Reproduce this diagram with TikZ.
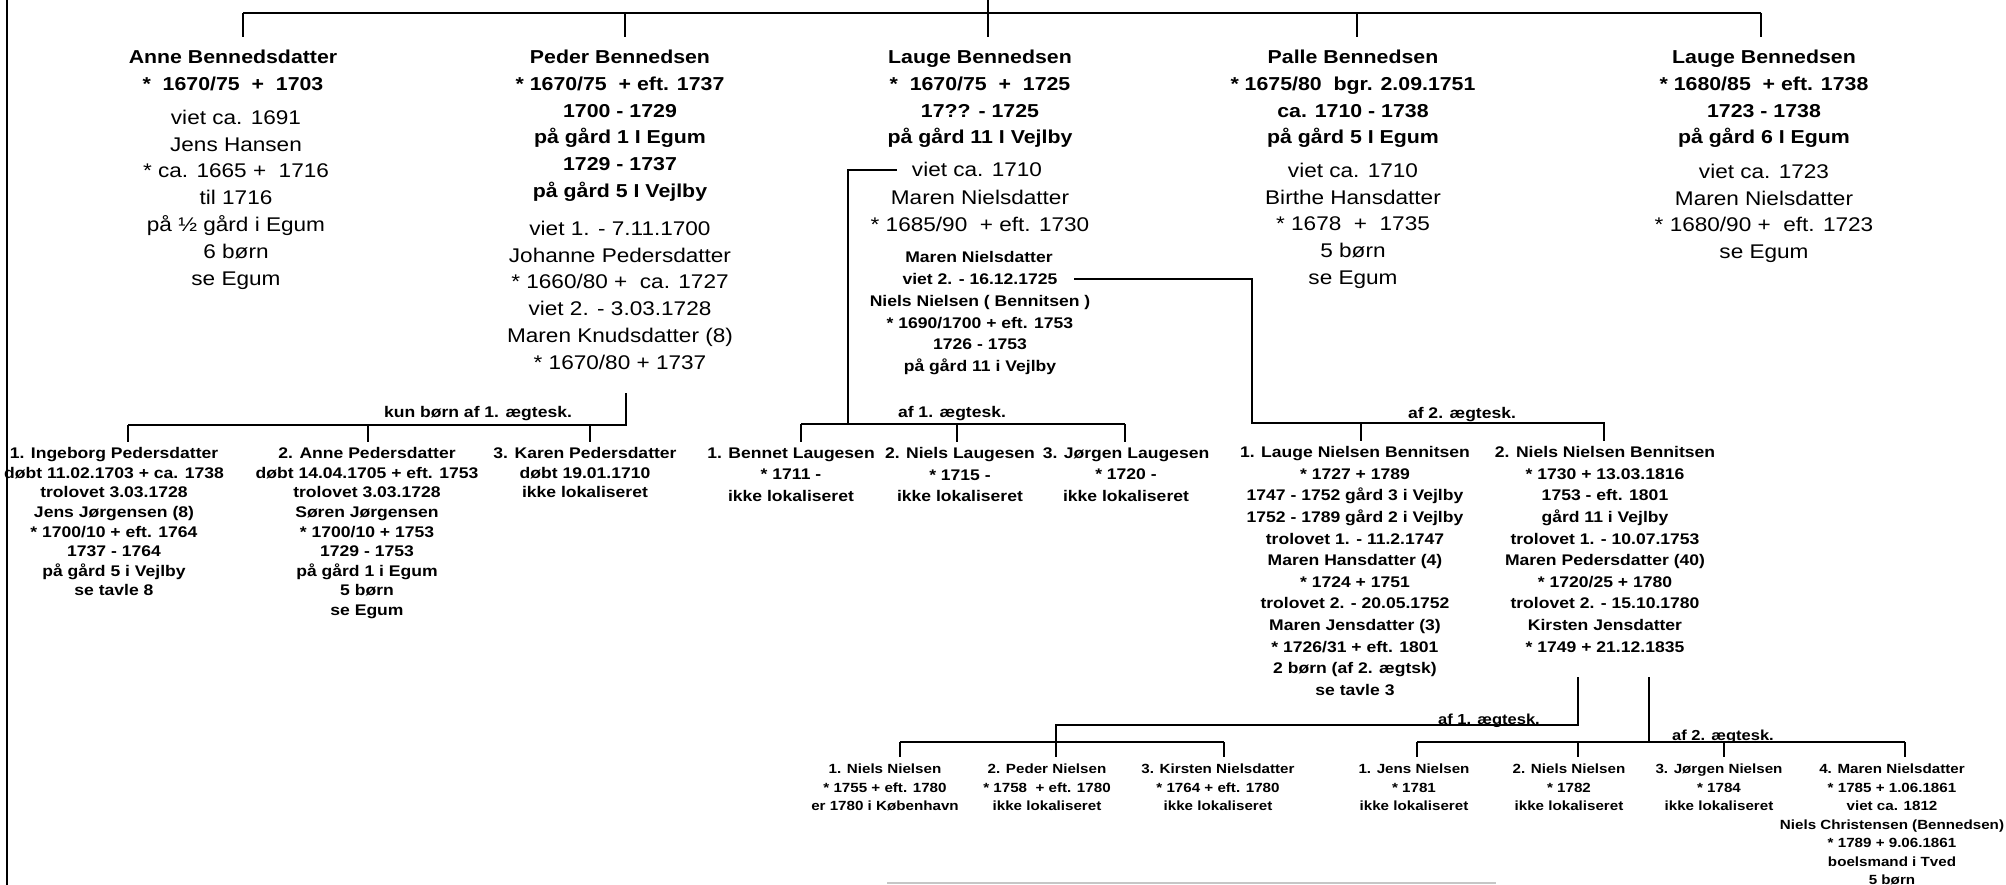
\documentclass[tikz,border=0pt]{standalone}
\usepackage{fontspec}
\setmainfont{Liberation Sans}[FakeStretch=1.14]

\tikzset{
  every node/.style={inner sep=0pt, outer sep=0pt, align=center},
  head/.style={anchor=north, outer ysep=13pt, font=\fontsize{18.7}{26.8}\selectfont\bfseries},
  spouse/.style={anchor=north, font=\fontsize{19.8}{26.8}\selectfont},
  spouseline/.style={anchor=base, font=\fontsize{19.8}{26.8}\selectfont},
  smalltext/.style={anchor=north, font=\fontsize{15.4}{21.6}\selectfont\bfseries},
  smallline/.style={anchor=base, font=\fontsize{15.4}{21.6}\selectfont\bfseries},
  kid/.style={anchor=north, outer ysep=5.5pt, font=\fontsize{15.4}{19.6}\selectfont\bfseries},
  kidwide/.style={kid, font=\fontsize{15.4}{21.6}\selectfont\bfseries},
  grandkid/.style={anchor=north, outer ysep=7.2pt, font=\fontsize{13.3}{18.5}\selectfont\bfseries},
  tag/.style={anchor=base, font=\fontsize{15.4}{20}\selectfont\bfseries},
  smalltag/.style={anchor=base, font=\fontsize{14.5}{18}\selectfont\bfseries},
  link/.style={line width=1.4pt}
}

\begin{document}
\begin{tikzpicture}[x=1pt, y=-1pt]
\useasboundingbox (0,0) rectangle (2006,885);

% first generation
\node (anne) [head] at (233,37) {Anne Bennedsdatter\\{}*~ 1670/75~ +~ 1703};
\node (anneM) [spouse] at (236,110) {viet ca. 1691\\ Jens Hansen\\{}* ca. 1665 +~ 1716\\ til 1716\\ på ½ gård i Egum\\ 6 børn\\ se Egum};

\node (peder) [head] at (620,37) {Peder Bennedsen\\{}* 1670/75~ + eft. 1737\\ 1700 - 1729\\ på gård 1 I Egum\\ 1729 - 1737\\ på gård 5 I Vejlby};
\node (pederM) [spouse] at (620,221) {viet 1. - 7.11.1700\\ Johanne Pedersdatter\\{}* 1660/80 +~ ca. 1727\\ viet 2. - 3.03.1728\\ Maren Knudsdatter (8)\\{}* 1670/80 + 1737};

\node (lauge) [head] at (980,37) {Lauge Bennedsen\\{}*~ 1670/75~ +~ 1725\\ 17?? - 1725\\ på gård 11 I Vejlby};
\node (laugeV1) [spouseline, outer xsep=15pt] at (977,177) {viet ca. 1710};
\node (laugeM) [spouse] at (980,190) {Maren Nielsdatter\\{}* 1685/90~ + eft. 1730};
\node (laugeC) [smalltext] at (979,251.5) {Maren Nielsdatter};
\node (laugeV2) [smallline, outer xsep=17pt] at (980,284.5) {viet 2. - 16.12.1725};
\node (laugeN) [smalltext, font=\fontsize{15.4}{21.5}\selectfont\bfseries] at (980,295.5) {Niels Nielsen ( Bennitsen )\\{}* 1690/1700 + eft. 1753\\ 1726 - 1753\\ på gård 11 i Vejlby};

\node (palle) [head] at (1353,37) {Palle Bennedsen\\{}* 1675/80~ bgr. 2.09.1751\\ ca. 1710 - 1738\\ på gård 5 I Egum};
\node (palleM) [spouse] at (1353,163) {viet ca. 1710\\ Birthe Hansdatter\\{}* 1678~ +~ 1735\\ 5 børn\\ se Egum};

\node (laugeII) [head] at (1764,37) {Lauge Bennedsen\\{}* 1680/85~ + eft. 1738\\ 1723 - 1738\\ på gård 6 I Egum};
\node (laugeIIM) [spouse] at (1764,164) {viet ca. 1723\\ Maren Nielsdatter\\{}* 1680/90 +~ eft. 1723\\ se Egum};

% second generation
\node (ingeborg) [kid] at (114,442) {1. Ingeborg Pedersdatter\\ døbt 11.02.1703 + ca. 1738\\ trolovet 3.03.1728\\ Jens Jørgensen (8)\\{}* 1700/10 + eft. 1764\\ 1737 - 1764\\ på gård 5 i Vejlby\\ se tavle 8};
\node (anneP) [kid] at (367,442) {2. Anne Pedersdatter\\ døbt 14.04.1705 + eft. 1753\\ trolovet 3.03.1728\\ Søren Jørgensen\\{}* 1700/10 + 1753\\ 1729 - 1753\\ på gård 1 i Egum\\ 5 børn\\ se Egum};
\node (karen) [kid] at (585,442) {3. Karen Pedersdatter\\ døbt 19.01.1710\\ ikke lokaliseret};
\node (bennet) [kidwide] at (791,442) {1. Bennet Laugesen\\{}* 1711 -\\ ikke lokaliseret};
\node (nielsL) [kidwide] at (960,442) {2. Niels Laugesen\\{}* 1715 -\\ ikke lokaliseret};
\node (jorgenL) [kidwide] at (1126,442) {3. Jørgen Laugesen\\{}* 1720 -\\ ikke lokaliseret};
\node (laugeNB) [kidwide] at (1355,441) {1. Lauge Nielsen Bennitsen\\{}* 1727 + 1789\\ 1747 - 1752 gård 3 i Vejlby\\ 1752 - 1789 gård 2 i Vejlby\\ trolovet 1. - 11.2.1747\\ Maren Hansdatter (4)\\{}* 1724 + 1751\\ trolovet 2. - 20.05.1752\\ Maren Jensdatter (3)\\{}* 1726/31 + eft. 1801\\ 2 børn (af 2. ægtsk)\\ se tavle 3};
\node (nielsNB) [kidwide] at (1605,441) {2. Niels Nielsen Bennitsen\\{}* 1730 + 13.03.1816\\ 1753 - eft. 1801\\ gård 11 i Vejlby\\ trolovet 1. - 10.07.1753\\ Maren Pedersdatter (40)\\{}* 1720/25 + 1780\\ trolovet 2. - 15.10.1780\\ Kirsten Jensdatter\\{}* 1749 + 21.12.1835};

\node (pederTag) [tag] at (478,417.5) {kun børn af 1. ægtesk.};
\node (laugeTag1) [tag] at (952,417.5) {af 1. ægtesk.};
\node (laugeTag2) [tag] at (1462,418.5) {af 2. ægtesk.};

% third generation
\node (niels3) [grandkid] at (885,757) {1. Niels Nielsen\\{}* 1755 + eft. 1780\\ er 1780 i København};
\node (peder3) [grandkid] at (1047,757) {2. Peder Nielsen\\{}* 1758~ + eft. 1780\\ ikke lokaliseret};
\node (kirsten3) [grandkid] at (1218,757) {3. Kirsten Nielsdatter\\{}* 1764 + eft. 1780\\ ikke lokaliseret};
\node (jens3) [grandkid] at (1414,757) {1. Jens Nielsen\\{}* 1781\\ ikke lokaliseret};
\node (nielsIII) [grandkid] at (1569,757) {2. Niels Nielsen\\{}* 1782\\ ikke lokaliseret};
\node (jorgen3) [grandkid] at (1719,757) {3. Jørgen Nielsen\\{}* 1784\\ ikke lokaliseret};
\node (maren3) [grandkid] at (1892,757) {4. Maren Nielsdatter\\{}* 1785 + 1.06.1861\\ viet ca. 1812\\ Niels Christensen (Bennedsen)\\{}* 1789 + 9.06.1861\\ boelsmand i Tved\\ 5 børn};

\node (nielsTag1) [smalltag] at (1489,724) {af 1. ægtesk.};
\node (nielsTag2) [smalltag] at (1723,740) {af 2. ægtesk.};

% connectors
\coordinate (top) at (988,0);
\coordinate (t1) at (243,13);
\coordinate (t2) at (625,13);
\coordinate (t3) at (988,13);
\coordinate (t4) at (1357,13);
\coordinate (t5) at (1761,13);
\draw[link] (top) -- (t3);
\draw[line width=2pt] (t1) -- (t5);
\foreach \s/\n in {t1/anne, t2/peder, t3/lauge, t4/palle, t5/laugeII}
  \draw[link] (\s) -- (\s |- \n.north);

\coordinate (pd) at (626,393);
\coordinate (pj) at (626,425);
\coordinate (p1) at (128,425);
\coordinate (p2) at (368,425);
\coordinate (p3) at (590,425);
\draw[link] (pd) -- (pj) -- (p1);
\foreach \s/\n in {p1/ingeborg, p2/anneP, p3/karen}
  \draw[link] (\s) -- (\s |- \n.north);

\coordinate (lj) at (848,424);
\coordinate (l1) at (801,424);
\coordinate (l2) at (957,424);
\coordinate (l3) at (1125,424);
\draw[link] (laugeV1.west) -| (lj);
\draw[link] (l1) -- (l3);
\foreach \s/\n in {l1/bennet, l2/nielsL, l3/jorgenL}
  \draw[link] (\s) -- (\s |- \n.north);

\coordinate (mj) at (1252,423);
\coordinate (m1) at (1361,423);
\coordinate (m2) at (1604,423);
\draw[link] (laugeV2.east) -| (mj) -- (m2) -- (m2 |- nielsNB.north);
\draw[link] (m1) -- (m1 |- laugeNB.north);

\coordinate (k1d) at (1578,677);
\coordinate (k1j) at (1578,725);
\coordinate (k1b) at (1056,725);
\coordinate (c1) at (900,742);
\coordinate (c3) at (1224,742);
\draw[link] (k1d) -- (k1j) -- (k1b) -- (k1b |- peder3.north);
\draw[link] (c1) -- (c3);
\foreach \s/\n in {c1/niels3, c3/kirsten3}
  \draw[link] (\s) -- (\s |- \n.north);

\coordinate (k2d) at (1649,677);
\coordinate (k2j) at (1649,742);
\coordinate (d1) at (1417,742);
\coordinate (d2) at (1578,742);
\coordinate (d3) at (1724,742);
\coordinate (d4) at (1905,742);
\draw[link] (k2d) -- (k2j);
\draw[link] (d1) -- (d4);
\foreach \s/\n in {d1/jens3, d2/nielsIII, d3/jorgen3, d4/maren3}
  \draw[link] (\s) -- (\s |- \n.north);

% frame and scan line
\draw[line width=2.5pt] (7,0) -- (7,885);
\draw[gray!45, line width=1.5pt] (887,883) -- (1496,883);
\end{tikzpicture}
\end{document}
